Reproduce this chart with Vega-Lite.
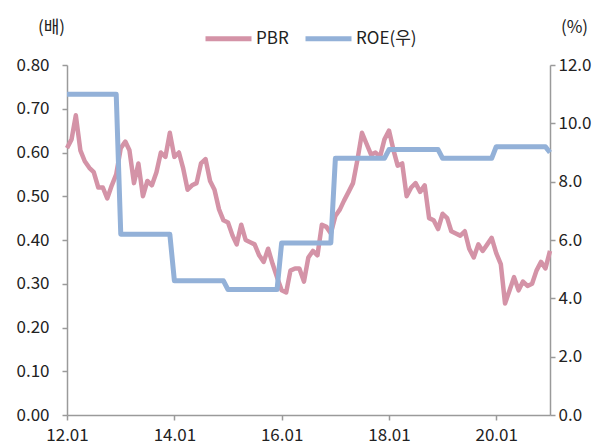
{
  "$schema": "https://vega.github.io/schema/vega-lite/v6.json",
  "width": 483,
  "height": 350,
  "autosize": {"type": "none"},
  "padding": {"left": 67, "top": 65, "right": 61, "bottom": 33},
  "background": "white",
  "config": {
    "font": "Noto Sans CJK KR",
    "view": {"stroke": null},
    "axis": {
      "labelFont": "Noto Sans CJK KR",
      "labelFontSize": 17,
      "labelColor": "#222222",
      "domainColor": "#9a9a9a",
      "domainWidth": 1.5,
      "tickColor": "#9a9a9a",
      "tickWidth": 1.5,
      "tickSize": 5,
      "grid": false,
      "titleFont": "Noto Sans CJK KR",
      "titleFontSize": 17,
      "titleFontWeight": "normal",
      "titleColor": "#222222"
    }
  },
  "data": {
    "values": [
      {"date": "2012-01-01", "PBR": 0.61, "ROE": 11.0},
      {"date": "2012-02-01", "PBR": 0.63, "ROE": 11.0},
      {"date": "2012-03-01", "PBR": 0.685, "ROE": 11.0},
      {"date": "2012-04-01", "PBR": 0.605, "ROE": 11.0},
      {"date": "2012-05-01", "PBR": 0.58, "ROE": 11.0},
      {"date": "2012-06-01", "PBR": 0.565, "ROE": 11.0},
      {"date": "2012-07-01", "PBR": 0.555, "ROE": 11.0},
      {"date": "2012-08-01", "PBR": 0.52, "ROE": 11.0},
      {"date": "2012-09-01", "PBR": 0.52, "ROE": 11.0},
      {"date": "2012-10-01", "PBR": 0.495, "ROE": 11.0},
      {"date": "2012-11-01", "PBR": 0.525, "ROE": 11.0},
      {"date": "2012-12-01", "PBR": 0.55, "ROE": 11.0},
      {"date": "2013-01-01", "PBR": 0.61, "ROE": 6.2},
      {"date": "2013-02-01", "PBR": 0.625, "ROE": 6.2},
      {"date": "2013-03-01", "PBR": 0.605, "ROE": 6.2},
      {"date": "2013-04-01", "PBR": 0.53, "ROE": 6.2},
      {"date": "2013-05-01", "PBR": 0.575, "ROE": 6.2},
      {"date": "2013-06-01", "PBR": 0.5, "ROE": 6.2},
      {"date": "2013-07-01", "PBR": 0.535, "ROE": 6.2},
      {"date": "2013-08-01", "PBR": 0.525, "ROE": 6.2},
      {"date": "2013-09-01", "PBR": 0.555, "ROE": 6.2},
      {"date": "2013-10-01", "PBR": 0.6, "ROE": 6.2},
      {"date": "2013-11-01", "PBR": 0.59, "ROE": 6.2},
      {"date": "2013-12-01", "PBR": 0.645, "ROE": 6.2},
      {"date": "2014-01-01", "PBR": 0.59, "ROE": 4.6},
      {"date": "2014-02-01", "PBR": 0.6, "ROE": 4.6},
      {"date": "2014-03-01", "PBR": 0.565, "ROE": 4.6},
      {"date": "2014-04-01", "PBR": 0.515, "ROE": 4.6},
      {"date": "2014-05-01", "PBR": 0.525, "ROE": 4.6},
      {"date": "2014-06-01", "PBR": 0.53, "ROE": 4.6},
      {"date": "2014-07-01", "PBR": 0.575, "ROE": 4.6},
      {"date": "2014-08-01", "PBR": 0.585, "ROE": 4.6},
      {"date": "2014-09-01", "PBR": 0.535, "ROE": 4.6},
      {"date": "2014-10-01", "PBR": 0.515, "ROE": 4.6},
      {"date": "2014-11-01", "PBR": 0.47, "ROE": 4.6},
      {"date": "2014-12-01", "PBR": 0.445, "ROE": 4.6},
      {"date": "2015-01-01", "PBR": 0.44, "ROE": 4.3},
      {"date": "2015-02-01", "PBR": 0.41, "ROE": 4.3},
      {"date": "2015-03-01", "PBR": 0.39, "ROE": 4.3},
      {"date": "2015-04-01", "PBR": 0.435, "ROE": 4.3},
      {"date": "2015-05-01", "PBR": 0.4, "ROE": 4.3},
      {"date": "2015-06-01", "PBR": 0.395, "ROE": 4.3},
      {"date": "2015-07-01", "PBR": 0.39, "ROE": 4.3},
      {"date": "2015-08-01", "PBR": 0.365, "ROE": 4.3},
      {"date": "2015-09-01", "PBR": 0.35, "ROE": 4.3},
      {"date": "2015-10-01", "PBR": 0.38, "ROE": 4.3},
      {"date": "2015-11-01", "PBR": 0.345, "ROE": 4.3},
      {"date": "2015-12-01", "PBR": 0.315, "ROE": 4.3},
      {"date": "2016-01-01", "PBR": 0.285, "ROE": 5.9},
      {"date": "2016-02-01", "PBR": 0.28, "ROE": 5.9},
      {"date": "2016-03-01", "PBR": 0.33, "ROE": 5.9},
      {"date": "2016-04-01", "PBR": 0.335, "ROE": 5.9},
      {"date": "2016-05-01", "PBR": 0.335, "ROE": 5.9},
      {"date": "2016-06-01", "PBR": 0.305, "ROE": 5.9},
      {"date": "2016-07-01", "PBR": 0.36, "ROE": 5.9},
      {"date": "2016-08-01", "PBR": 0.375, "ROE": 5.9},
      {"date": "2016-09-01", "PBR": 0.365, "ROE": 5.9},
      {"date": "2016-10-01", "PBR": 0.435, "ROE": 5.9},
      {"date": "2016-11-01", "PBR": 0.43, "ROE": 5.9},
      {"date": "2016-12-01", "PBR": 0.415, "ROE": 5.9},
      {"date": "2017-01-01", "PBR": 0.455, "ROE": 8.8},
      {"date": "2017-02-01", "PBR": 0.47, "ROE": 8.8},
      {"date": "2017-03-01", "PBR": 0.49, "ROE": 8.8},
      {"date": "2017-04-01", "PBR": 0.51, "ROE": 8.8},
      {"date": "2017-05-01", "PBR": 0.53, "ROE": 8.8},
      {"date": "2017-06-01", "PBR": 0.585, "ROE": 8.8},
      {"date": "2017-07-01", "PBR": 0.645, "ROE": 8.8},
      {"date": "2017-08-01", "PBR": 0.62, "ROE": 8.8},
      {"date": "2017-09-01", "PBR": 0.595, "ROE": 8.8},
      {"date": "2017-10-01", "PBR": 0.6, "ROE": 8.8},
      {"date": "2017-11-01", "PBR": 0.59, "ROE": 8.8},
      {"date": "2017-12-01", "PBR": 0.63, "ROE": 8.8},
      {"date": "2018-01-01", "PBR": 0.65, "ROE": 9.1},
      {"date": "2018-02-01", "PBR": 0.605, "ROE": 9.1},
      {"date": "2018-03-01", "PBR": 0.57, "ROE": 9.1},
      {"date": "2018-04-01", "PBR": 0.575, "ROE": 9.1},
      {"date": "2018-05-01", "PBR": 0.5, "ROE": 9.1},
      {"date": "2018-06-01", "PBR": 0.52, "ROE": 9.1},
      {"date": "2018-07-01", "PBR": 0.53, "ROE": 9.1},
      {"date": "2018-08-01", "PBR": 0.51, "ROE": 9.1},
      {"date": "2018-09-01", "PBR": 0.525, "ROE": 9.1},
      {"date": "2018-10-01", "PBR": 0.45, "ROE": 9.1},
      {"date": "2018-11-01", "PBR": 0.445, "ROE": 9.1},
      {"date": "2018-12-01", "PBR": 0.425, "ROE": 9.1},
      {"date": "2019-01-01", "PBR": 0.46, "ROE": 8.8},
      {"date": "2019-02-01", "PBR": 0.45, "ROE": 8.8},
      {"date": "2019-03-01", "PBR": 0.42, "ROE": 8.8},
      {"date": "2019-04-01", "PBR": 0.415, "ROE": 8.8},
      {"date": "2019-05-01", "PBR": 0.41, "ROE": 8.8},
      {"date": "2019-06-01", "PBR": 0.42, "ROE": 8.8},
      {"date": "2019-07-01", "PBR": 0.38, "ROE": 8.8},
      {"date": "2019-08-01", "PBR": 0.36, "ROE": 8.8},
      {"date": "2019-09-01", "PBR": 0.39, "ROE": 8.8},
      {"date": "2019-10-01", "PBR": 0.375, "ROE": 8.8},
      {"date": "2019-11-01", "PBR": 0.39, "ROE": 8.8},
      {"date": "2019-12-01", "PBR": 0.405, "ROE": 8.8},
      {"date": "2020-01-01", "PBR": 0.37, "ROE": 9.2},
      {"date": "2020-02-01", "PBR": 0.345, "ROE": 9.2},
      {"date": "2020-03-01", "PBR": 0.255, "ROE": 9.2},
      {"date": "2020-04-01", "PBR": 0.285, "ROE": 9.2},
      {"date": "2020-05-01", "PBR": 0.315, "ROE": 9.2},
      {"date": "2020-06-01", "PBR": 0.285, "ROE": 9.2},
      {"date": "2020-07-01", "PBR": 0.305, "ROE": 9.2},
      {"date": "2020-08-01", "PBR": 0.295, "ROE": 9.2},
      {"date": "2020-09-01", "PBR": 0.3, "ROE": 9.2},
      {"date": "2020-10-01", "PBR": 0.33, "ROE": 9.2},
      {"date": "2020-11-01", "PBR": 0.35, "ROE": 9.2},
      {"date": "2020-12-01", "PBR": 0.335, "ROE": 9.2},
      {"date": "2021-01-01", "PBR": 0.375, "ROE": 9.0}
    ]
  },
  "encoding": {
    "x": {
      "field": "date",
      "type": "temporal",
      "scale": {
        "type": "utc",
        "domain": [
          {"year": 2012, "month": 1, "date": 1, "utc": true},
          {"year": 2021, "month": 1, "date": 1, "utc": true}
        ]
      },
      "axis": {
        "title": null,
        "labelExpr": "utcFormat(datum.value, '%y.%m')",
        "values": [
          {"year": 2012, "month": 1, "date": 1, "utc": true},
          {"year": 2014, "month": 1, "date": 1, "utc": true},
          {"year": 2016, "month": 1, "date": 1, "utc": true},
          {"year": 2018, "month": 1, "date": 1, "utc": true},
          {"year": 2020, "month": 1, "date": 1, "utc": true}
        ],
        "labelPadding": 7,
        "labelFlush": false,
        "labelOverlap": false
      }
    }
  },
  "layer": [
    {
      "mark": {"type": "line", "strokeWidth": 4.5, "strokeJoin": "round", "strokeCap": "butt"},
      "encoding": {
        "y": {
          "field": "PBR",
          "type": "quantitative",
          "scale": {"domain": [0, 0.8], "nice": false, "zero": true},
          "axis": {
            "title": "(배)",
            "titleAngle": 0,
            "titleX": -16,
            "titleY": -38,
            "titleAlign": "center",
            "titleBaseline": "middle",
            "values": [0, 0.1, 0.2, 0.3, 0.4, 0.5, 0.6, 0.7, 0.8],
            "format": ".2f",
            "labelPadding": 13
          }
        },
        "color": {
          "datum": "PBR",
          "scale": {"domain": ["PBR", "ROE(우)"], "range": ["#d493a7", "#93b1d8"]},
          "legend": {
            "title": null,
            "orient": "none",
            "legendX": 136,
            "legendY": -52,
            "direction": "horizontal",
            "symbolType": "stroke",
            "symbolSize": 2116,
            "symbolStrokeWidth": 5,
            "labelFontSize": 17,
            "labelColor": "#222222",
            "labelFont": "Noto Sans CJK KR",
            "labelOffset": 2,
            "columnPadding": 6
          }
        }
      }
    },
    {
      "mark": {"type": "line", "strokeWidth": 5, "strokeJoin": "round", "strokeCap": "butt"},
      "encoding": {
        "y": {
          "field": "ROE",
          "type": "quantitative",
          "scale": {"domain": [0, 12], "nice": false, "zero": true},
          "axis": {
            "orient": "right",
            "title": "(%)",
            "titleAngle": 0,
            "titleX": 24,
            "titleY": -38,
            "titleAlign": "center",
            "titleBaseline": "middle",
            "values": [0, 2, 4, 6, 8, 10, 12],
            "format": ".1f",
            "labelPadding": 3
          }
        },
        "color": {"datum": "ROE(우)"}
      }
    }
  ],
  "resolve": {"scale": {"y": "independent"}}
}
